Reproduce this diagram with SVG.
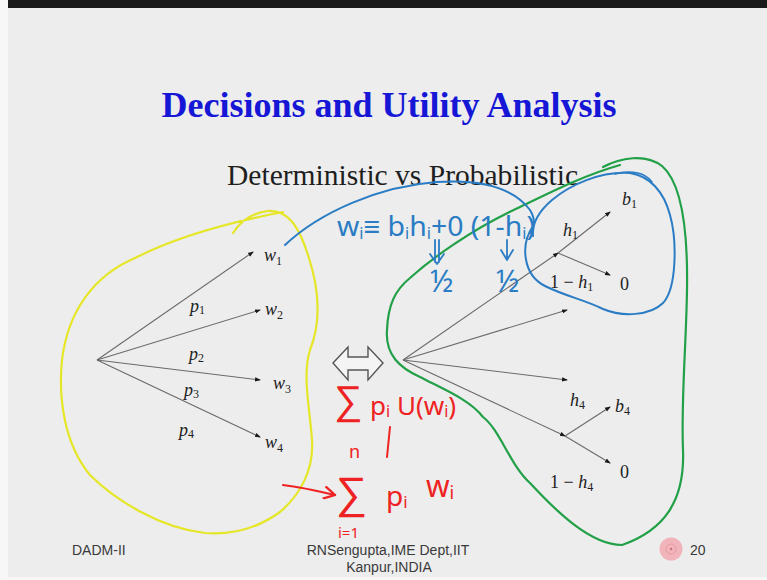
<svg xmlns="http://www.w3.org/2000/svg" width="767" height="580" viewBox="0 0 767 580">
<defs>
<marker id="dot" viewBox="0 0 6 6" refX="5" refY="3" markerWidth="6" markerHeight="6" orient="auto" markerUnits="userSpaceOnUse">
<path d="M0,0.8 L6,3 L0,5.2 Z" fill="#1a1a1a"/>
</marker>
<marker id="redhead" viewBox="0 0 10 10" refX="9" refY="5" markerWidth="14" markerHeight="14" orient="auto" markerUnits="userSpaceOnUse">
<path d="M1,0.5 L9,5 L1,9.5" fill="none" stroke="#ee2222" stroke-width="1.6"/>
</marker>
</defs>
<style>
.edge{stroke:#6a6a6a;stroke-width:1.1;fill:none;marker-end:url(#dot)}
.lbl{font-family:"Liberation Serif",serif;font-style:italic;font-size:18px;fill:#222}
.num{font-family:"Liberation Serif",serif;font-size:18px;fill:#222}
.sub{font-size:12px;font-style:normal}
.hand-b{font-family:"Noto Sans",sans-serif;fill:#2a7cc4}
.hand-r{font-family:"Noto Sans",sans-serif;fill:#ee2222}
.ink{fill:none;stroke-linecap:round;stroke-linejoin:round}
.foot{font-family:"Liberation Sans",sans-serif;font-size:14px;fill:#3a3a3a}
</style>
<rect x="0" y="0" width="767" height="580" fill="#f7f7f7"/>
<rect x="8" y="8" width="759" height="569" fill="#ededed"/>
<rect x="8" y="0" width="759" height="8" fill="#1a1a1a"/>

<text x="389" y="117" text-anchor="middle" font-family="Liberation Serif,serif" font-weight="bold" font-size="36" fill="#1616d6">Decisions and Utility Analysis</text>
<text x="227" y="185" font-family="Liberation Serif,serif" font-size="29" fill="#1e1e1e" textLength="351" lengthAdjust="spacingAndGlyphs">Deterministic vs Probabilistic</text>

<g id="connectors">
<line class="edge" x1="97" y1="360" x2="253" y2="252"/>
<line class="edge" x1="97" y1="360" x2="260" y2="310"/>
<line class="edge" x1="97" y1="360" x2="260" y2="380"/>
<line class="edge" x1="97" y1="360" x2="260" y2="437"/>
<line class="edge" x1="403" y1="360" x2="558" y2="253"/>
<line class="edge" x1="403" y1="360" x2="567" y2="310"/>
<line class="edge" x1="403" y1="360" x2="567" y2="380"/>
<line class="edge" x1="403" y1="360" x2="565" y2="436"/>
<line class="edge" x1="558" y1="253" x2="610" y2="212"/>
<line class="edge" x1="558" y1="253" x2="610" y2="275"/>
<line class="edge" x1="565" y1="436" x2="610" y2="407"/>
<line class="edge" x1="565" y1="436" x2="610" y2="463"/>
</g>

<g id="left-tree">
<g id="w1"><text class="lbl" x="264" y="261">w<tspan class="sub" dy="4">1</tspan></text></g>
<g id="w2"><text class="lbl" x="265" y="315">w<tspan class="sub" dy="4">2</tspan></text></g>
<g id="w3"><text class="lbl" x="273" y="389">w<tspan class="sub" dy="4">3</tspan></text></g>
<g id="w4"><text class="lbl" x="265" y="448">w<tspan class="sub" dy="4">4</tspan></text></g>
<text class="lbl" x="190" y="312">p<tspan class="sub" dy="2">1</tspan></text>
<text class="lbl" x="189" y="360">p<tspan class="sub" dy="2">2</tspan></text>
<text class="lbl" x="184" y="396">p<tspan class="sub" dy="2">3</tspan></text>
<text class="lbl" x="179" y="436">p<tspan class="sub" dy="2">4</tspan></text>
</g>

<g id="right-tree">
<g id="b1"><text class="lbl" x="622" y="205">b<tspan class="sub" dy="3">1</tspan></text></g>
<text class="lbl" x="563" y="236" font-size="20">h<tspan class="sub" dy="3">1</tspan></text>
<text class="num" x="550" y="288">1 − <tspan font-style="italic">h</tspan><tspan class="sub" dy="3">1</tspan></text>
<g id="zero1"><text class="num" x="620" y="290">0</text></g>
<text class="lbl" x="570" y="406" font-size="20">h<tspan class="sub" dy="3">4</tspan></text>
<g id="b4"><text class="lbl" x="615" y="412">b<tspan class="sub" dy="3">4</tspan></text></g>
<g id="zero4"><text class="num" x="620" y="478">0</text></g>
<text class="num" x="550" y="488">1 − <tspan font-style="italic">h</tspan><tspan class="sub" dy="3">4</tspan></text>
</g>

<g id="equiv-arrow">
<path d="M333,363 L348,347 L348,357 L368,357 L368,347 L383,363 L368,380 L368,370 L348,370 L348,380 Z" fill="#f4f4f4" stroke="#555" stroke-width="1.4" stroke-linejoin="miter"/>
</g>

<g id="ink">
<path class="ink" stroke="#e6e628" stroke-width="2.2" d="M233,233 C240,222 252,213 268,211 C290,210 300,230 308,255 C318,285 322,320 310,350 C302,375 310,410 312,440 C314,470 300,495 280,512 C255,530 230,535 205,533 C160,528 115,500 90,475 C65,445 58,400 62,360 C68,310 95,275 135,258 C170,240 215,225 283,212"/>
<path class="ink" stroke="#22a048" stroke-width="2.2" d="M603,167 C620,158 645,153 662,166 C682,183 688,230 687,290 C686,350 681,400 683,450 C685,500 665,530 622,545 C590,545 555,510 530,483 C510,465 500,430 483,417 C470,400 445,390 420,377 C400,368 385,355 387,330 C388,305 395,290 410,278 C430,260 470,230 520,207 C555,190 585,175 620,165"/>
<path class="ink" stroke="#2a7cc4" stroke-width="2" d="M285,245 C320,212 380,186 437,182 C485,179 515,190 530,210 C536,220 534,228 530,233"/>
<path class="ink" stroke="#2a7cc4" stroke-width="2" d="M533,226 C520,245 523,275 545,286 C565,296 585,300 603,309 C622,317 650,316 663,303 C677,288 677,240 670,215 C664,192 650,176 630,173 C600,171 570,185 552,200 C538,212 532,225 533,236"/>
<path class="ink" stroke="#2a7cc4" stroke-width="1.6" d="M615,174 C630,170 645,172 652,182"/>
<text class="hand-b" x="337" y="236" font-size="28" textLength="198" lengthAdjust="spacingAndGlyphs">w<tspan font-size="16" dy="3">i</tspan><tspan dy="-3">≡ b</tspan><tspan font-size="16" dy="3">i</tspan><tspan dy="-3">h</tspan><tspan font-size="16" dy="3">i</tspan><tspan dy="-3">+0 (1-h</tspan><tspan font-size="16" dy="3">i</tspan><tspan dy="-3">)</tspan></text>
<path class="ink" stroke="#2a7cc4" stroke-width="1.8" d="M435,240 L435,262 M439,240 L439,262 M430,254 L437,264 L444,254"/>
<path class="ink" stroke="#2a7cc4" stroke-width="1.8" d="M507,240 L507,258 M501,250 L507,260 L513,250"/>
<text class="hand-b" x="430" y="292" font-size="30">½</text>
<text class="hand-b" x="496" y="292" font-size="30">½</text>

<text class="hand-r" x="334" y="414" font-size="40">∑</text>
<text class="hand-r" x="370" y="415" font-size="26">p<tspan font-size="16" dy="2">i</tspan><tspan dy="-2"> U(w</tspan><tspan font-size="16" dy="2">i</tspan><tspan dy="-2">)</tspan></text>
<path class="ink" stroke="#ee2222" stroke-width="2" d="M390,427 L387,457"/>
<text class="hand-r" x="349" y="458" font-size="18">n</text>
<text class="hand-r" x="336" y="508" font-size="44">∑</text>
<text class="hand-r" x="338" y="538" font-size="15">i=1</text>
<text class="hand-r" x="386" y="506" font-size="28">p<tspan font-size="17" dy="2">i</tspan></text>
<text class="hand-r" x="426" y="497" font-size="30">w<tspan font-size="18" dy="2">i</tspan></text>
<path class="ink" stroke="#ee2222" stroke-width="2" marker-end="url(#redhead)" d="M283,485 C300,487 318,491 335,495"/>
</g>

<g id="footer">
<text class="foot" x="72" y="555">DADM-II</text>
<text class="foot" x="388" y="555" text-anchor="middle">RNSengupta,IME Dept,IIT</text>
<text class="foot" x="389" y="572" text-anchor="middle">Kanpur,INDIA</text>
<circle cx="671" cy="549" r="11.5" fill="#f0b4ba"/>
<circle cx="671" cy="549" r="5" fill="none" stroke="#e89aa2" stroke-width="1"/>
<circle cx="671" cy="549" r="1.2" fill="#d0707a"/>
<text class="foot" x="690" y="555" font-size="15">20</text>
</g>
</svg>
